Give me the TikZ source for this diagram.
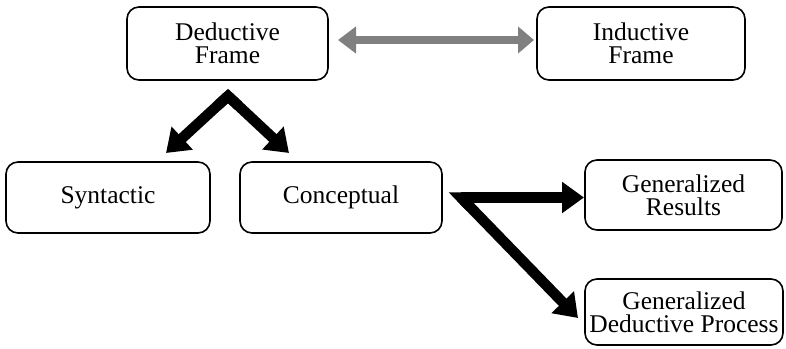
\documentclass[tikz,border=0pt]{standalone}
\usepackage{fontspec}
\setmainfont{Liberation Serif}
\usetikzlibrary{arrows.meta,calc}
\begin{document}
\begin{tikzpicture}[x=1pt,y=-1pt,
  box/.style={draw, line width=1.6pt, rounded corners=12pt, align=center, inner sep=0pt,
    font=\fontsize{25.5}{23}\selectfont},
  bigarrow/.style={line width=10.5pt, line join=miter, miter limit=20,
    -{Triangle[width=30pt,length=22pt]}},
  grayarrow/.style={line width=8pt, draw=black!50,
    {Triangle[width=26pt,length=18pt]}-{Triangle[width=26pt,length=16pt]}}]
\useasboundingbox (0,0) rectangle (786,348);
\node[box, minimum width=201pt, minimum height=73pt] (df) at (227.5,43.5) {Deductive\\Frame};
\node[box, minimum width=208pt, minimum height=73pt] (if) at (641,43.5) {Inductive\\Frame};
\node[box, minimum width=204pt, minimum height=71pt] (syn) at (108,197.5) {Syntactic};
\node[box, minimum width=202pt, minimum height=71pt] (con) at (341,197.5) {Conceptual};
\node[box, minimum width=197pt, minimum height=70pt] (gr) at (683.5,195) {Generalized\\Results};
\node[box, minimum width=198pt, minimum height=66pt] (gdp) at (684,312) {Generalized\\Deductive Process};
% double gray arrow between frames
\coordinate (gl) at (338,40);
\coordinate (gr2) at (534,40);
\draw[grayarrow] (gl) -- (gr2);
% chevron from Deductive Frame
\coordinate (apex) at (228,96);
\coordinate (tl) at (166,153);
\coordinate (tr) at (289,153);
\draw[bigarrow] (apex) -- (tl);
\draw[bigarrow] (apex) -- (tr);
\draw[line width=10.5pt, line join=miter, miter limit=20] ($(apex)!14pt!(tl)$) -- (apex) -- ($(apex)!14pt!(tr)$);
% from Conceptual
\coordinate (corner) at (461,197.5);
\coordinate (th) at (584,197.5);
\coordinate (td) at (578,318);
\draw[bigarrow] (corner) -- (th);
\draw[bigarrow] (corner) -- (td);
\draw[line width=10.5pt, line join=miter, miter limit=20] ($(corner)!14pt!(th)$) -- (corner) -- ($(corner)!14pt!(td)$);
\end{tikzpicture}
\end{document}
